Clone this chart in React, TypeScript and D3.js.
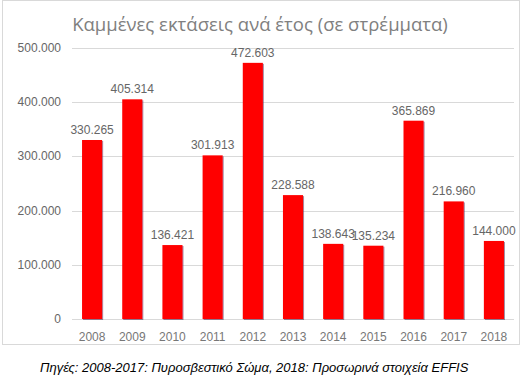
import React, { useEffect } from "react";
import * as d3 from "d3";

const years = ["2008", "2009", "2010", "2011", "2012", "2013", "2014", "2015", "2016", "2017", "2018"];
const burned = [330265, 405314, 136421, 301913, 472603, 228588, 138643, 135234, 365869, 216960, 144000];
const yTicks = [0, 100000, 200000, 300000, 400000, 500000];
const titleText = "Καμμένες εκτάσεις ανά έτος (σε στρέμματα)";
const sourceText = "Πηγές: 2008-2017: Πυροσβεστικό Σώμα, 2018: Προσωρινά στοιχεία EFFIS";

const W = 524, H = 379;
const left = 72, right = 514, top = 48, bottom = 319;

const fmt = (v: number) => {
  if (v === 0) return "0";
  const s = Math.round(v).toString();
  return s.replace(/\B(?=(\d{3})+(?!\d))/g, ".");
};

export default function App() {
  useEffect(() => {
    document.body.style.margin = "0";
  }, []);
  const x = d3.scaleBand<string>().domain(years).range([left, right]).paddingInner(0.5).paddingOuter(0.25);
  const y = d3.scaleLinear().domain([0, 500000]).range([bottom, top]);
  const font = "'Liberation Sans', Arial, sans-serif";
  return (
    <svg width={W} height={H} style={{ display: "block", background: "#fff" }}>
      <defs>
        <filter id="sh" x="-20%" y="-20%" width="150%" height="150%">
          <feDropShadow dx="1" dy="1" stdDeviation="0.6" floodColor="#502850" floodOpacity="0.55" />
        </filter>
      </defs>
      <rect x={2.5} y={0.5} width={517} height={344} fill="#fff" stroke="#d9d9d9" />
      <text x={260} y={31} textAnchor="middle" fontFamily="'Open Sans', sans-serif" fontSize={18.5} fill="#808080">
        {titleText}
      </text>
      {yTicks.map((t) => (
        <g key={t}>
          <line x1={left} x2={right} y1={Math.round(y(t)) + 0.5} y2={Math.round(y(t)) + 0.5} stroke="#d9d9d9" />
          <text x={61} y={y(t) + 4} textAnchor="end" fontFamily={font} fontSize={12} fill="#666">
            {fmt(t)}
          </text>
        </g>
      ))}
      {years.map((yr, i) => (
        <g key={yr}>
          <rect x={x(yr)!} y={y(burned[i])} width={x.bandwidth()} height={bottom - y(burned[i])} fill="#ff0000" filter="url(#sh)" />
          <text x={x(yr)! + x.bandwidth() / 2} y={y(burned[i]) - 6} textAnchor="middle" fontFamily={font} fontSize={12} fill="#666">
            {fmt(burned[i])}
          </text>
          <text x={x(yr)! + x.bandwidth() / 2} y={341} textAnchor="middle" fontFamily={font} fontSize={12} fill="#777">
            {yr}
          </text>
        </g>
      ))}
      <text x={40} y={372} fontFamily={font} fontStyle="italic" fontSize={13} fill="#000">
        {sourceText}
      </text>
    </svg>
  );
}
